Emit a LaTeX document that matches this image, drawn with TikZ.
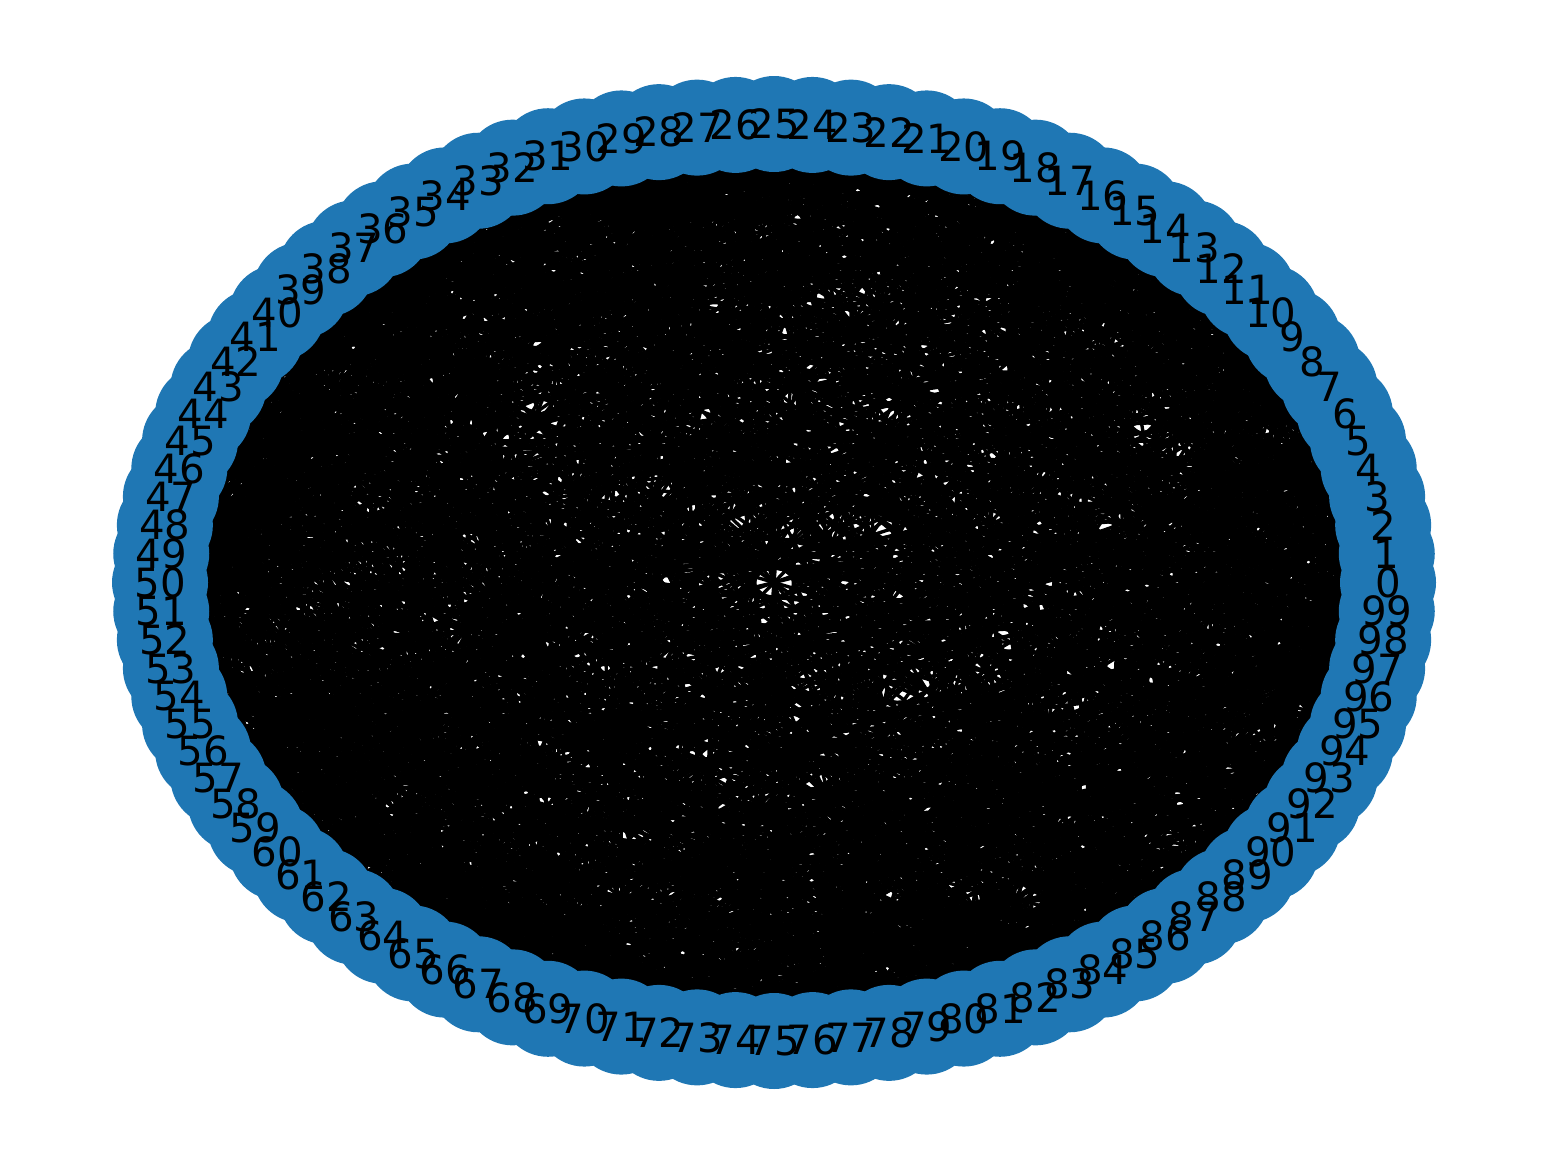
\documentclass[tikz,border=0pt]{standalone}
\usepackage{fontspec}
\setmainfont{DejaVu Sans}
\definecolor{nodeblue}{HTML}{1F77B4}
\tikzset{
  vertex/.style={circle,fill=nodeblue,inner sep=0pt,minimum size=0.96cm},
  vlabel/.style={font=\fontsize{11.47}{13}\selectfont,inner sep=0pt},
  edge/.style={line width=0.96pt,black}
}
\begin{document}
\begin{tikzpicture}
\useasboundingbox (0,0) rectangle (15.48,11.68);
\pgfmathsetseed{4242}
% positions on the ellipse
\foreach \i in {0,...,99}
    \coordinate (p\i) at ({7.74+6.14*cos(3.6*\i)},{5.855+4.585*sin(3.6*\i)});

% edges
\foreach \i in {0,...,98}{
    \pgfmathtruncatemacro{\k}{\i+1}
    \foreach \j in {\k,...,99}{
        \pgfmathrandominteger{\r}{1}{100}
        \ifnum\r>62 \draw[edge] (p\i)--(p\j); \fi
    }
}

% vertices and labels
\foreach \i in {0,...,99}
    \node[vertex] (v\i) at (p\i) {};
\foreach \i in {0,...,99}
    \node[vlabel] (t\i) at (v\i) {\i};
\end{tikzpicture}
\end{document}
